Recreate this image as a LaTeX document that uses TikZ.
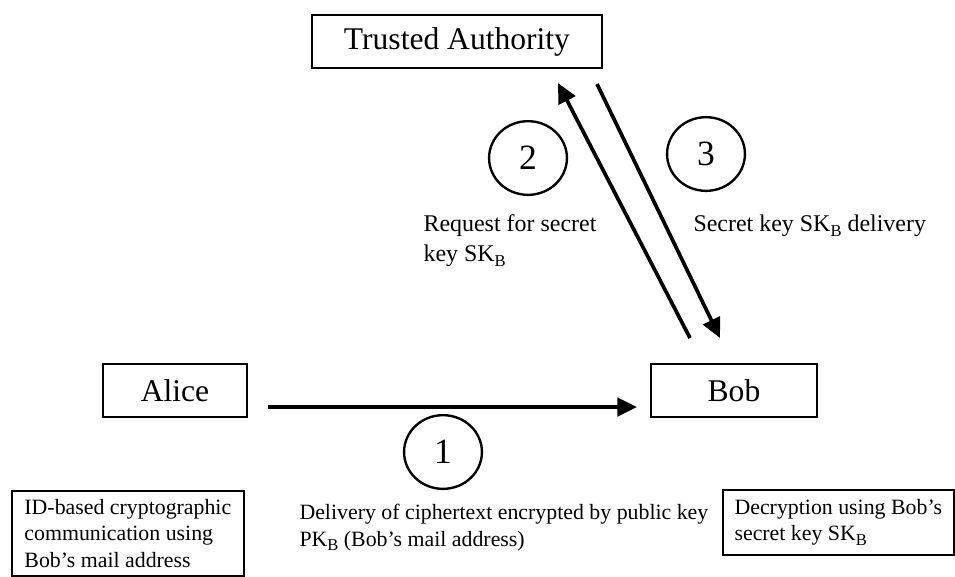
\documentclass[tikz,border=0pt]{standalone}
\usepackage{fontspec}
\setmainfont{Liberation Serif}
\usetikzlibrary{arrows.meta,shapes.geometric}

\newcommand{\lowsub}[1]{\raisebox{-0.45ex}{\fontsize{6.3}{7}\selectfont #1}}

\begin{document}
\begin{tikzpicture}[
    x=0.38pt, y=-0.38pt,
    party/.style={draw, line width=1pt, minimum height=20.1pt, inner sep=0pt, font=\fontsize{12}{14}\selectfont},
    stepno/.style={draw, ellipse, line width=0.9pt, minimum width=29.6pt, minimum height=28pt, inner sep=0pt, font=\fontsize{13.5}{15}\selectfont},
    msg/.style={anchor=north west, inner sep=0pt, align=left, font=\fontsize{9.1}{11.4}\selectfont},
    note/.style={inner sep=0pt, align=left, font=\fontsize{8.3}{10}\selectfont},
    notebox/.style={note, draw, line width=0.6pt, anchor=north west},
    flow/.style={-{Triangle[length=7.5pt,width=7pt]}, line width=1.4pt},
]
    \useasboundingbox (0,0) rectangle (955,576);

    \node[party, minimum width=110.2pt] (ta) at (457,41.5) {Trusted Authority};
    \node[party, minimum width=54.7pt] (alice) at (175,390.5) {Alice};
    \node[party, minimum width=63.1pt] (bob) at (734,390.5) {Bob};

    \node[stepno] (one) at (443,452) {1};
    \node[stepno] (two) at (528,158) {2};
    \node[stepno] (three) at (706,154) {3};

    \node[msg] (req) at (423,214) {Request for secret\\key SK\lowsub{B}};
    \node[msg] (skdel) at (693,214) {Secret key SK\lowsub{B} delivery};
    \node[note, anchor=north west] (deliv) at (299,504) {Delivery of ciphertext encrypted by public key\\PK\lowsub{B} (Bob's mail address)};

    \node[notebox, minimum width=88.2pt, minimum height=32.3pt] (idcom) at (11,490) {ID-based cryptographic\\communication using\\Bob's mail address};
    \node[notebox, minimum width=87.8pt, minimum height=24.7pt] (decr) at (722,489) {Decryption using Bob's\\secret key SK\lowsub{B}};

    % free ends of the arrows
    \coordinate (ab0) at (268,407);
    \coordinate (ab1) at (637,407);
    \coordinate (bt0) at (690,338);
    \coordinate (bt1) at (558,83);
    \coordinate (tb0) at (597,84);
    \coordinate (tb1) at (720,338);

    \draw[flow] (ab0) -- (ab1);
    \draw[flow] (bt0) -- (bt1);
    \draw[flow] (tb0) -- (tb1);

\end{tikzpicture}
\end{document}
